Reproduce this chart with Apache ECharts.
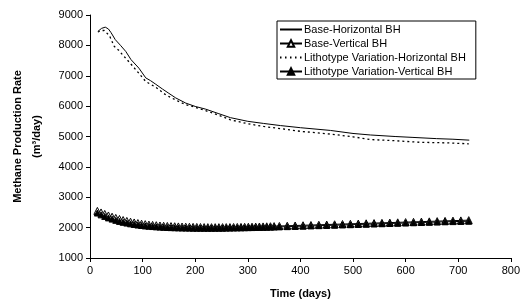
<!DOCTYPE html>
<html><head><meta charset="utf-8">
<script src="https://cdn.jsdelivr.net/npm/echarts@6/dist/echarts.min.js"></script>
<style>html,body{margin:0;padding:0;background:#fff}#c{width:523px;height:305px}</style>
</head><body><div id="c"></div>
<script>
// Horizontal borehole series
const baseHDays = [15,22,29,35,40,48,58,68,78,93,106,115,125,138,150,163,182,200,220,245,267,300,330,362,400,457,500,533,580,614,659,690,721];
const baseHVals = [8460,8560,8600,8540,8420,8190,8000,7800,7530,7250,6930,6840,6720,6560,6420,6270,6100,5990,5900,5750,5620,5500,5430,5360,5290,5200,5100,5050,5000,4970,4930,4910,4880];
const lithHDays = [15,22,27,37,46,54,62,75,90,106,125,144,163,180,195,220,245,267,300,330,362,400,457,500,533,580,627,680,720];
const lithHVals = [8440,8490,8490,8320,7970,7850,7690,7440,7140,6810,6620,6370,6200,6060,5990,5850,5700,5550,5420,5330,5260,5170,5080,4990,4900,4860,4810,4790,4760];
// Vertical borehole series
const vertDays = [14,21,28,35,42,49,56,63,70,77,84,91,98,105,112,119,126,133,140,147,154,161,168,175,182,189,196,203,210,217,224,231,238,245,252,259,266,273,280,287,294,301,308,315,322,329,336,343,350,360,375,390,405,420,435,450,465,480,495,510,525,540,555,570,585,600,615,630,645,660,675,690,705,720];
const baseVVals = [2550,2500,2450,2400,2360,2320,2285,2250,2220,2195,2170,2150,2130,2115,2100,2090,2080,2070,2060,2055,2050,2045,2040,2035,2030,2028,2025,2022,2020,2018,2016,2015,2015,2015,2016,2017,2018,2020,2022,2024,2026,2028,2031,2034,2037,2040,2043,2046,2050,2055,2062,2070,2078,2086,2094,2102,2110,2118,2126,2134,2142,2150,2158,2166,2174,2182,2190,2198,2206,2214,2222,2230,2238,2246];
const lithVVals = [2480,2420,2370,2320,2280,2240,2205,2175,2150,2125,2105,2085,2070,2055,2045,2035,2025,2018,2010,2004,2000,1996,1992,1989,1986,1984,1982,1981,1980,1980,1980,1980,1981,1982,1983,1985,1987,1989,1991,1993,1996,1999,2002,2005,2008,2011,2014,2017,2020,2025,2032,2040,2048,2056,2064,2072,2080,2088,2096,2104,2112,2120,2128,2136,2144,2152,2160,2168,2176,2184,2192,2198,2204,2210];
const seriesNames = ['Base-Horizontal BH','Base-Vertical BH','Lithotype Variation-Horizontal BH','Lithotype Variation-Vertical BH'];

const zip = (a,b) => a.map((d,i)=>[d,b[i]]);
const font = 'Arial, "Liberation Sans", sans-serif';
const chart = echarts.init(document.getElementById('c'));
chart.setOption({
  animation:false,
  textStyle:{fontFamily:font,color:'#000'},
  grid:{left:89,right:12,top:15,bottom:47},
  legend:{
    orient:'vertical', left:277, top:21,
    backgroundColor:'#fff', borderColor:'#000', borderWidth:1,
    padding:[3,10,2,2], itemGap:3, itemWidth:22, itemHeight:8,
    textStyle:{fontFamily:font,fontSize:11,color:'#000',padding:[0,0,0,-3]},
    data:[
      {name:seriesNames[0], itemStyle:{opacity:0}},
      {name:seriesNames[1]},
      {name:seriesNames[2], itemStyle:{opacity:0}, lineStyle:{type:[1.5,3.5]}},
      {name:seriesNames[3]}
    ]
  },
  xAxis:{
    type:'value', min:0, max:800, interval:100,
    name:'Time (days)', nameLocation:'middle', nameGap:30,
    nameTextStyle:{fontFamily:font,fontSize:11,fontWeight:'bold',color:'#000'},
    axisLine:{lineStyle:{color:'#000',width:1}},
    axisTick:{show:true,length:4,lineStyle:{color:'#000'}},
    axisLabel:{fontFamily:font,fontSize:11,color:'#000',margin:7},
    splitLine:{show:false}
  },
  yAxis:{
    type:'value', min:1000, max:9000, interval:1000,
    name:'Methane Production Rate\n(m³/day)', nameLocation:'middle', nameGap:44,
    nameTextStyle:{fontFamily:font,fontSize:11,fontWeight:'bold',color:'#000',lineHeight:19,align:'center'},
    axisLine:{show:true,lineStyle:{color:'#000',width:1}},
    axisTick:{show:true,length:4,lineStyle:{color:'#000'}},
    axisLabel:{fontFamily:font,fontSize:11,color:'#000',margin:7,formatter:v=>String(v)},
    splitLine:{show:false}
  },
  series:[
    {name:seriesNames[0],type:'line',data:zip(baseHDays,baseHVals),showSymbol:false,symbol:'none',
     lineStyle:{color:'#000',width:1},itemStyle:{color:'#000'}},
    {name:seriesNames[1],type:'line',data:zip(vertDays,baseVVals),symbol:'triangle',symbolSize:7,
     lineStyle:{color:'#000',width:1},itemStyle:{color:'#fff',borderColor:'#000',borderWidth:1}},
    {name:seriesNames[2],type:'line',data:zip(lithHDays,lithHVals),showSymbol:false,symbol:'none',
     lineStyle:{color:'#000',width:1.3,type:[2,3]},itemStyle:{color:'#000'}},
    {name:seriesNames[3],type:'line',data:zip(vertDays,lithVVals),symbol:'triangle',symbolSize:6,
     lineStyle:{color:'#000',width:1},itemStyle:{color:'#000',borderColor:'#000',borderWidth:1}}
  ]
});
</script></body></html>
